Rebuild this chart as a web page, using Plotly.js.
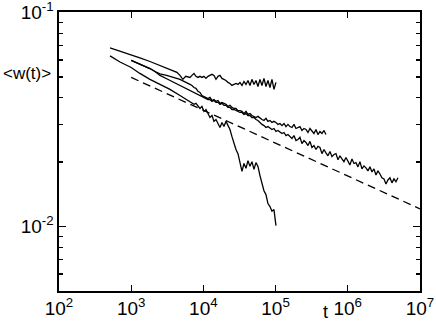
<!DOCTYPE html>
<html>
<head>
<meta charset="utf-8">
<script src="https://cdn.plot.ly/plotly-3.0.1.min.js"></script>
<style>
  body { margin: 0; background: #fff; }
  #myDiv { width: 436px; height: 323px; }
</style>
</head>
<body>
<div id="myDiv"></div>
<script>
// ---------------- DATA ----------------
// common time grid for the noisy parts of the curves
var tGrid = [6522, 6952, 7410, 7898, 8419, 8973, 9565, 10195, 10867, 11583,
  12340, 13160, 14030, 14950, 15940, 16980, 18100, 19300, 20570, 21920,
  23360, 24900, 26540, 28290, 30150, 32130, 34250, 36510, 38910, 41480,
  44200, 47120, 50220, 53530, 57060, 60800, 64820, 69090, 73640, 78490,
  83650, 89170, 95040, 101300, 108000, 115100, 122700, 130800, 139400, 148600,
  158300, 168800, 179900, 191700, 204400, 217800, 232200, 247500, 263800, 281200,
  299600, 319400, 340400, 362900, 386800, 412200, 439400, 468400, 499200, 532100,
  567000, 604400, 644200, 686700, 731900, 780000, 831500, 886300, 944700, 1007000,
  1073000, 1144000, 1219000, 1300000, 1385000, 1476000, 1574000, 1677000, 1788000, 1906000,
  2030000, 2164000, 2307000, 2459000, 2621000, 2793000, 2977000, 3174000, 3383000, 3606000,
  3842000, 4096000, 4366000, 4653000, 4960000];

// curve A (top, stops at 1e5)
var aHeadT = [509, 700, 1000, 1320, 1820, 2500, 3200, 3900, 4300, 4740, 5200, 5700, 6522];
var aHeadW = [0.0683, 0.0657, 0.0630, 0.0613, 0.0590, 0.0565, 0.0545, 0.0530, 0.0525, 0.0508, 0.0487, 0.0503, 0.0497];
var aTailW = [0.0508, 0.0519, 0.0503, 0.0497, 0.0503, 0.0497, 0.0503, 0.0492, 0.0503, 0.0508,
  0.0514, 0.0508, 0.0487, 0.0503, 0.0508, 0.0492, 0.0487, 0.0481, 0.0471, 0.0466,
  0.0456, 0.0461, 0.0466, 0.0461, 0.0471, 0.0456, 0.0476, 0.0461, 0.0481, 0.0456,
  0.0487, 0.0461, 0.0481, 0.0451, 0.0487, 0.0456, 0.0492, 0.0451, 0.0481, 0.0446,
  0.0487, 0.0437, 0.0471];

// curve D (second from top at start, drops to 0.01 at 1e5)
var dHeadT = [509, 700, 1000, 1320, 1820, 2500, 3446, 4741, 6522];
var dHeadW = [0.0627, 0.0587, 0.0553, 0.0519, 0.0487, 0.0461, 0.0437, 0.0409, 0.0384];
var dTailW = [0.0380, 0.0372, 0.0376, 0.0364, 0.0356, 0.0364, 0.0345, 0.0352, 0.0334, 0.0323,
  0.0330, 0.0310, 0.0316, 0.0300, 0.0290, 0.0306, 0.0293, 0.0310, 0.0296, 0.0284,
  0.0263, 0.0242, 0.0229, 0.0219, 0.0199, 0.0181, 0.0197, 0.0187, 0.0203, 0.0191,
  0.0201, 0.0185, 0.0199, 0.0191, 0.0173, 0.0159, 0.0147, 0.0141, 0.0128, 0.0124,
  0.0118, 0.0120, 0.0101];

// curves C1 / C2 (start together at 1e3)
var cHeadT = [1000, 1320, 1820, 2136, 2505, 3100, 4741, 6522];
var c1HeadW = [0.0597, 0.0575, 0.0547, 0.0530, 0.0516, 0.0508, 0.0487, 0.0461];
var c2HeadW = [0.0597, 0.0575, 0.0547, 0.0530, 0.0508, 0.0490, 0.0456, 0.0430];
var c1TailW = [0.0456, 0.0446, 0.0442, 0.0428, 0.0423, 0.0409, 0.0405, 0.0401, 0.0396, 0.0401,
  0.0388, 0.0392, 0.0384, 0.0388, 0.0376, 0.0380, 0.0376, 0.0372, 0.0364, 0.0368,
  0.0360, 0.0356, 0.0356, 0.0348, 0.0348, 0.0345, 0.0337, 0.0345, 0.0334, 0.0337,
  0.0330, 0.0327, 0.0323, 0.0327, 0.0320, 0.0316, 0.0313, 0.0320, 0.0310, 0.0313,
  0.0306, 0.0310, 0.0306, 0.0300, 0.0303, 0.0296, 0.0303, 0.0293, 0.0300, 0.0293,
  0.0290, 0.0300, 0.0287, 0.0290, 0.0293, 0.0281, 0.0287, 0.0284, 0.0275, 0.0287,
  0.0278, 0.0272, 0.0284, 0.0269, 0.0278, 0.0272, 0.0281, 0.0269];
var c2TailW = [0.0428, 0.0423, 0.0418, 0.0414, 0.0409, 0.0405, 0.0401, 0.0396, 0.0392, 0.0392,
  0.0384, 0.0388, 0.0380, 0.0380, 0.0372, 0.0376, 0.0368, 0.0368, 0.0360, 0.0360,
  0.0352, 0.0352, 0.0348, 0.0345, 0.0341, 0.0341, 0.0334, 0.0337, 0.0330, 0.0330,
  0.0323, 0.0323, 0.0316, 0.0313, 0.0306, 0.0300, 0.0296, 0.0290, 0.0293, 0.0287,
  0.0284, 0.0287, 0.0278, 0.0281, 0.0275, 0.0272, 0.0275, 0.0266, 0.0269, 0.0263,
  0.0258, 0.0266, 0.0252, 0.0255, 0.0261, 0.0244, 0.0252, 0.0247, 0.0239, 0.0250,
  0.0234, 0.0239, 0.0229, 0.0237, 0.0234, 0.0219, 0.0229, 0.0221, 0.0214, 0.0224,
  0.0212, 0.0217, 0.0219, 0.0205, 0.0214, 0.0207, 0.0201, 0.0210, 0.0203, 0.0194,
  0.0207, 0.0197, 0.0199, 0.0190, 0.0201, 0.0186, 0.0192, 0.0188, 0.0182, 0.0190,
  0.0180, 0.0186, 0.0174, 0.0182, 0.0176, 0.0169, 0.0167, 0.0158, 0.0165, 0.0169,
  0.0160, 0.0167, 0.0162, 0.0169];

// dashed reference power law
var refT = [1000, 10000000];
var refW = [0.0497, 0.0121];

// axis ticks
var xTicks = [1e2, 1e3, 1e4, 1e5, 1e6, 1e7];
var xLabels = ['10<sup>2</sup>', '10<sup>3</sup>', '10<sup>4</sup>', '10<sup>5</sup>', '10<sup>6</sup>', '10<sup>7</sup>'];
var yTicks = [0.01, 0.1];
var yLabels = ['10<sup>-2</sup>', '10<sup>-1</sup>'];
var yMinor = [0.006, 0.007, 0.008, 0.009, 0.02, 0.03, 0.04, 0.05, 0.06, 0.07, 0.08, 0.09];

// ---------------- PLOT ----------------
function joinCurve(headT, headW, tailW){
  // tails start right after the first grid point (which ends the head)
  var tt = tGrid.slice(1, 1 + tailW.length);
  return {x: headT.concat(tt), y: headW.concat(tailW)};
}

function curve(c, dash){
  return {
    x: c.x,
    y: c.y,
    type: 'scatter',
    mode: 'lines',
    hoverinfo: 'skip',
    line: {color: 'black', width: 1.3, dash: dash || 'solid'}
  };
}

var a = joinCurve(aHeadT, aHeadW, aTailW);
var d = joinCurve(dHeadT, dHeadW, dTailW);
var c1 = joinCurve(cHeadT, c1HeadW, c1TailW);
var c2 = joinCurve(cHeadT, c2HeadW, c2TailW);

var data = [
  curve(a), curve(d), curve(c1), curve(c2),
  curve({x: refT, y: refW}, '8px,5px')
];

var axisFont = {family: 'Liberation Sans, Arial, sans-serif', size: 19, color: 'black'};

var layout = {
  width: 436,
  height: 323,
  margin: {l: 59, r: 16, t: 12, b: 32},
  showlegend: false,
  paper_bgcolor: 'white',
  plot_bgcolor: 'white',
  font: axisFont,
  xaxis: {
    type: 'log',
    range: [2, 7.001],
    tickmode: 'array',
    tickvals: xTicks,
    ticktext: xLabels,
    ticks: 'inside',
    ticklen: 6,
    tickwidth: 1.3,
    tickcolor: 'black',
    ticklabeloverflow: 'allow',
    showline: true,
    linecolor: 'black',
    linewidth: 1.6,
    mirror: 'ticks',
    showgrid: false,
    zeroline: false,
    tickfont: axisFont
  },
  yaxis: {
    type: 'log',
    range: [Math.log10(0.005), -0.998],
    tickmode: 'array',
    tickvals: yTicks,
    ticktext: yLabels,
    ticks: 'inside',
    ticklen: 7,
    tickwidth: 1.3,
    tickcolor: 'black',
    ticklabeloverflow: 'allow',
    minor: {tickmode: 'array', tickvals: yMinor, ticks: 'inside', ticklen: 4, tickwidth: 1.3, tickcolor: 'black', showgrid: false},
    showline: true,
    linecolor: 'black',
    linewidth: 1.6,
    mirror: 'ticks',
    showgrid: false,
    zeroline: false,
    tickfont: axisFont
  },
  annotations: [
    {text: '&lt;w(t)&gt;', xref: 'paper', yref: 'paper', x: -0.088, y: 0.781,
     showarrow: false, xanchor: 'center', yanchor: 'middle',
     font: {family: 'Liberation Sans, Arial, sans-serif', size: 17, color: 'black'}},
    {text: 't', xref: 'paper', yref: 'paper', x: 0.737, y: -0.075,
     showarrow: false, xanchor: 'center', yanchor: 'middle',
     font: {family: 'Liberation Sans, Arial, sans-serif', size: 18, color: 'black'}}
  ]
};

Plotly.newPlot('myDiv', data, layout, {staticPlot: true});
</script>
</body>
</html>
